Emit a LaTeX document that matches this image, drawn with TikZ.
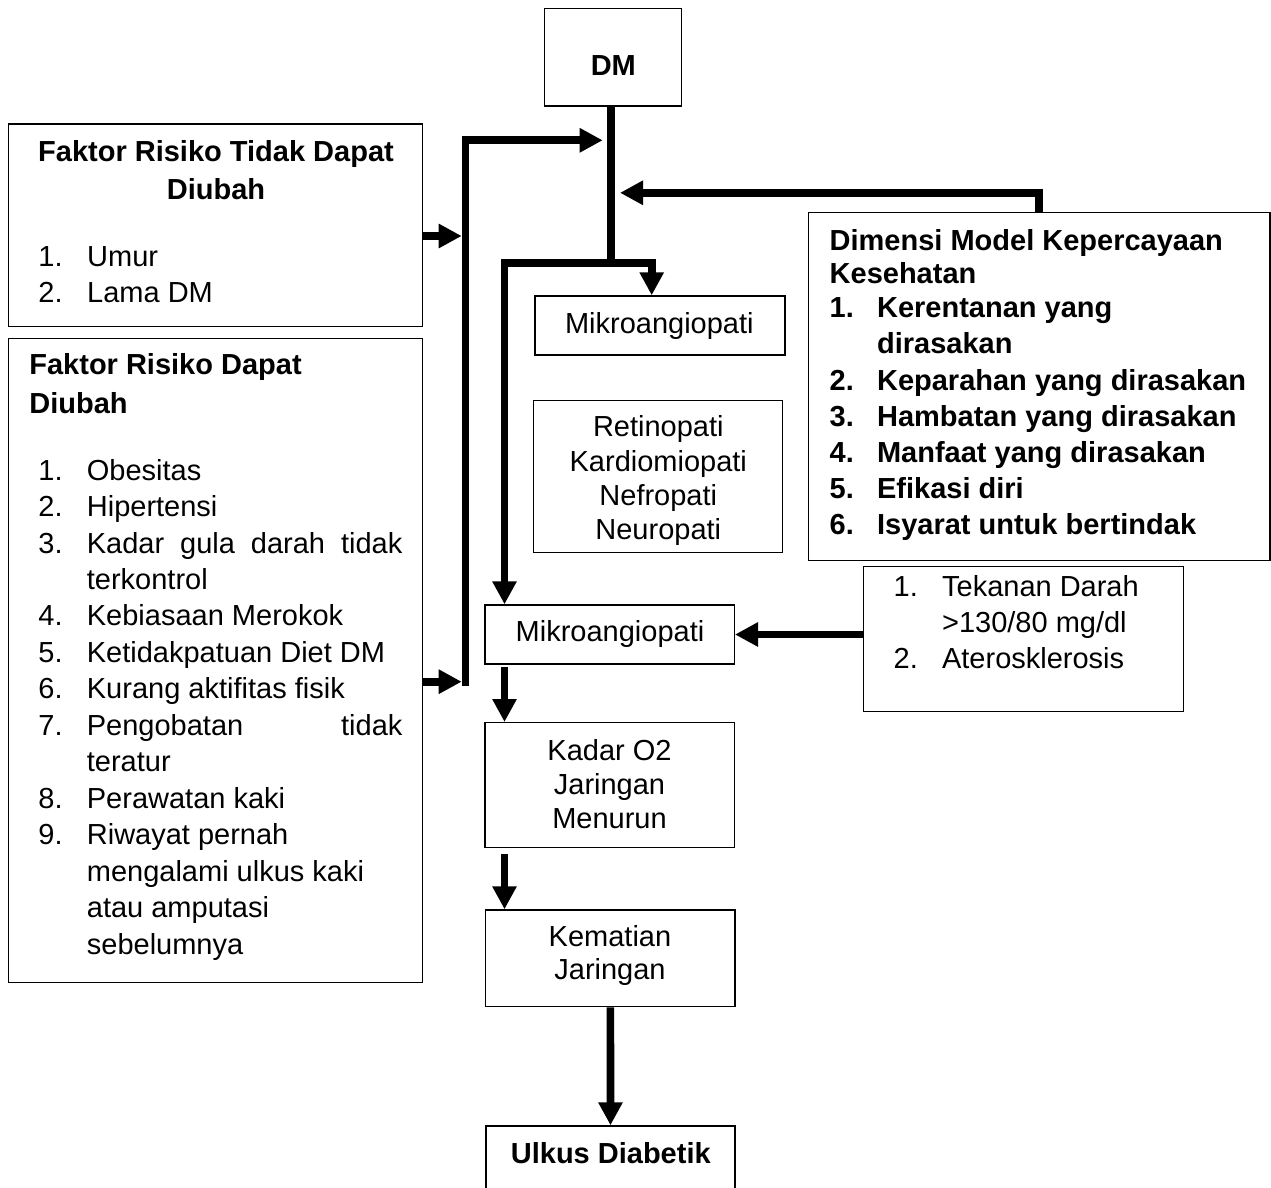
\documentclass[tikz,border=0pt]{standalone}
\usepackage{fontspec}
\setmainfont{Liberation Sans}
\usetikzlibrary{arrows.meta, fit}
\newcommand{\baris}[1]{\fontsize{14.5}{#1pt}\selectfont}
\tikzset{
    box/.style={draw, line width=0.7pt, inner sep=0pt},
    txt/.style={inner sep=0pt, font=\fontsize{14.5}{18.25}\selectfont},
    bold/.style={inner sep=0pt, font=\fontsize{14.5}{18.25}\selectfont\bfseries},
    link/.style={line width=3.85pt},
    arr/.style={link, -{Triangle[length=11.5pt, width=11.5pt]}},
}

\begin{document}
\begin{tikzpicture}[x=0.5pt, y=-0.5pt]
    \clip (0, 0) rectangle (1271, 1188);

    % kotak-kotak
    \node[box, fit={(544.3, 8.3) (681.7, 106)}] (dm) {};
    \node[bold, anchor=base] (dm-teks) at (613.3, 76) {DM};

    \node[box, fit={(8.3, 124) (422.7, 326.7)}] (tetap) {};
    \node[bold, anchor=base] (tetap-judul) at (216, 161.7)
        {\baris{19.15}\begin{tabular}[t]{@{}c@{}}Faktor Risiko Tidak Dapat\\
        Diubah\end{tabular}};
    \node[txt, anchor=base west] (tetap-isi) at (38, 266)
        {\baris{18.15}\begin{tabular}[t]{@{}p{24.4pt}@{}l@{}}1.&Umur\\
        2.&Lama DM\end{tabular}};

    \node[box, fit={(8.3, 338.3) (422.7, 982.7)}] (ubah) {};
    \node[bold, anchor=base west] (ubah-judul) at (29, 374.3)
        {\baris{19.85}\begin{tabular}[t]{@{}l@{}}Faktor Risiko Dapat\\
        Diubah\end{tabular}};
    \node[txt, anchor=base west] (ubah-isi) at (38, 480)
        {\baris{18.25}\begin{tabular}[t]{@{}p{24.25pt}@{}l@{}}
        1.&Obesitas\\
        2.&Hipertensi\\
        3.&\makebox[157.75pt][s]{Kadar gula darah tidak}\\
          &terkontrol\\
        4.&Kebiasaan Merokok\\
        5.&Ketidakpatuan Diet DM\\
        6.&Kurang aktifitas fisik\\
        7.&\makebox[157.75pt][s]{Pengobatan tidak}\\
          &teratur\\
        8.&Perawatan kaki\\
        9.&Riwayat pernah\\
          &mengalami ulkus kaki\\
          &atau amputasi\\
          &sebelumnya
        \end{tabular}};

    \node[box, fit={(808.3, 212.7) (1270, 560.7)}] (hbm) {};
    \node[bold, anchor=base west] (hbm-judul) at (829.3, 250)
        {\baris{16.65}\begin{tabular}[t]{@{}l@{}}Dimensi Model Kepercayaan\\
        Kesehatan\end{tabular}};
    \node[bold, anchor=base west] (hbm-isi) at (829.3, 317.7)
        {\baris{18.1}\begin{tabular}[t]{@{}p{23.7pt}@{}l@{}}
        1.&Kerentanan yang\\
          &dirasakan\\
        2.&Keparahan yang dirasakan\\
        3.&Hambatan yang dirasakan\\
        4.&Manfaat yang dirasakan\\
        5.&Efikasi diri\\
        6.&Isyarat untuk bertindak
        \end{tabular}};

    \node[box, fit={(535, 296) (785, 355)}] (mikroA) {};
    \node[txt, anchor=base] (mikroA-teks) at (659.3, 333.3) {Mikroangiopati};

    \node[box, fit={(533.3, 400.7) (782.7, 552.7)}] (komplikasi) {};
    \node[txt, anchor=base] (komplikasi-teks) at (658.3, 436.7)
        {\baris{17.2}\begin{tabular}[t]{@{}c@{}}Retinopati\\Kardiomiopati\\
        Nefropati\\Neuropati\end{tabular}};

    \node[box, fit={(485, 605) (734.3, 664)}] (mikroB) {};
    \node[txt, anchor=base] (mikroB-teks) at (610, 641.7) {Mikroangiopati};

    \node[box, fit={(863.3, 566.7) (1183.3, 711.7)}] (tekanan) {};
    \node[txt, anchor=base west] (tekanan-isi) at (893.3, 596.7)
        {\baris{17.9}\begin{tabular}[t]{@{}p{24.2pt}@{}l@{}}1.&Tekanan Darah\\
        &>130/80 mg/dl\\2.&Aterosklerosis\end{tabular}};

    \node[box, fit={(485, 722.7) (734.3, 847.3)}] (oksigen) {};
    \node[txt, anchor=base] (oksigen-teks) at (609.5, 760)
        {\baris{17.1}\begin{tabular}[t]{@{}c@{}}Kadar O2\\Jaringan\\
        Menurun\end{tabular}};

    \node[box, fit={(485.7, 910) (735, 1006.7)}] (nekrosis) {};
    \node[txt, anchor=base] (nekrosis-teks) at (610, 946.7)
        {\baris{16.3}\begin{tabular}[t]{@{}c@{}}Kematian\\Jaringan\end{tabular}};

    \node[box, fit={(486, 1126) (735, 1200)}] (ulkus) {};
    \node[bold, anchor=base] (ulkus-teks) at (610.8, 1163.3) {Ulkus Diabetik};

    % titik belok
    \coordinate (trunk) at (611.2, 263);
    \coordinate (kiri) at (504.5, 263);
    \coordinate (kanan) at (651.7, 263);
    \coordinate (bus-atas) at (465.5, 140.3);
    \coordinate (bus-bawah) at (465.5, 685.5);
    \coordinate (dm-masuk) at (602.7, 140.3);
    \coordinate (bus-in1) at (461.7, 236);
    \coordinate (bus-in2) at (461.7, 681.7);
    \coordinate (hbm-naik) at (1039, 192.8);
    \coordinate (hbm-masuk) at (620, 192.8);

    % panah
    \draw[link] (trunk |- dm.south) -- (trunk);
    \draw[arr] (bus-bawah) -- (bus-atas) -- (dm-masuk);
    \draw[arr] (tetap.east |- bus-in1) -- (bus-in1);
    \draw[arr] (ubah.east |- bus-in2) -- (bus-in2);
    \draw[arr] (hbm.north -| hbm-naik) -- (hbm-naik) -- (hbm-masuk);
    \draw[arr] (kiri) -- (kanan) -- (mikroA.north -| kanan);
    \draw[arr] (kanan) -- (kiri) -- (mikroB.north -| kiri);
    \draw[arr] (tekanan.west |- mikroB) -- (mikroB.east);
    \draw[arr] ([yshift=-1pt]kiri |- mikroB.south) -- (oksigen.north -| kiri);
    \draw[arr] ([yshift=-3pt]kiri |- oksigen.south) -- (nekrosis.north -| kiri);
    \draw[arr] (nekrosis.south) -- (ulkus.north);
\end{tikzpicture}
\end{document}
